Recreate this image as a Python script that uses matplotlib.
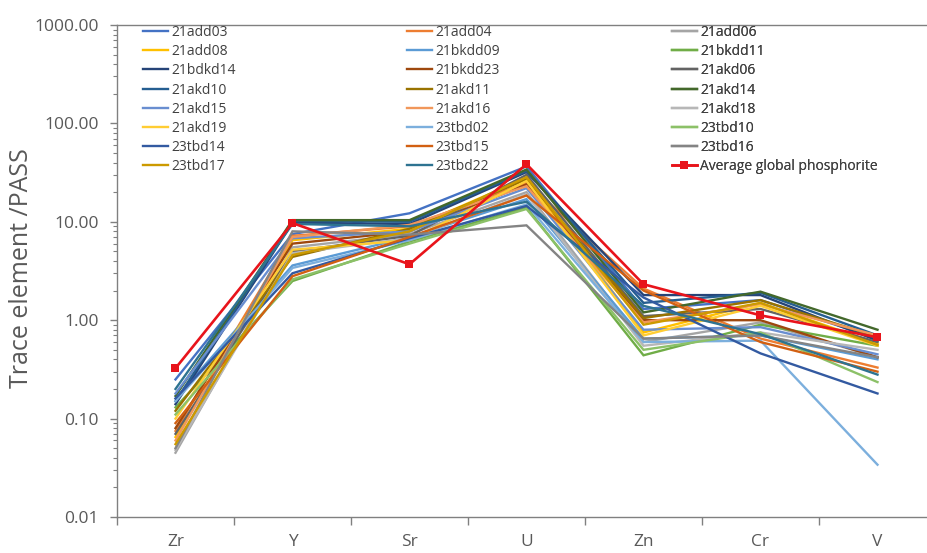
import matplotlib
matplotlib.use("Agg")
import matplotlib.pyplot as plt
from matplotlib.ticker import FixedLocator, NullFormatter, FuncFormatter, LogLocator

plt.rcParams['font.family'] = ['Open Sans', 'DejaVu Sans']

elements = ["Zr", "Y", "Sr", "U", "Zn", "Cr", "V"]

# Sample names, in legend order (row by row, three columns)
samples = [
    "21add03", "21add04", "21add06",
    "21add08", "21bkdd09", "21bkdd11",
    "21bdkd14", "21bkdd23", "21akd06",
    "21akd10", "21akd11", "21akd14",
    "21akd15", "21akd16", "21akd18",
    "21akd19", "23tbd02", "23tbd10",
    "23tbd14", "23tbd15", "23tbd16",
    "23tbd17", "23tbd22",
]

sample_colors = [
    "#4472C4", "#ED7D31", "#A5A5A5",
    "#FFC000", "#5B9BD5", "#70AD47",
    "#264478", "#9E480E", "#636363",
    "#255E91", "#997300", "#43682B",
    "#698ED0", "#F1975A", "#B7B7B7",
    "#FFCD33", "#7CAFDD", "#8CC168",
    "#335AA1", "#D26012", "#848484",
    "#CC9A00", "#2E7391",
]

# PASS-normalised values, columns = Zr, Y, Sr, U, Zn, Cr, V
values = {
    "21add03":  [0.25, 7.5, 12.2, 36.5, 1.30, 1.60, 0.65],
    "21add04":  [0.075, 7.2, 9.0, 25.0, 2.10, 0.65, 0.33],
    "21add06":  [0.045, 5.5, 7.5, 20.0, 0.60, 0.95, 0.42],
    "21add08":  [0.065, 6.5, 8.5, 28.0, 0.75, 1.50, 0.58],
    "21bkdd09": [0.16, 3.6, 7.0, 17.0, 0.65, 0.70, 0.40],
    "21bkdd11": [0.13, 2.5, 6.3, 14.0, 0.44, 0.90, 0.55],
    "21bdkd14": [0.14, 9.8, 9.5, 32.0, 1.80, 1.80, 0.62],
    "21bkdd23": [0.08, 6.0, 8.0, 24.0, 1.00, 1.00, 0.42],
    "21akd06":  [0.07, 5.0, 7.2, 30.0, 1.10, 1.30, 0.60],
    "21akd10":  [0.15, 10.2, 10.0, 33.0, 1.50, 1.90, 0.70],
    "21akd11":  [0.12, 4.4, 8.5, 27.0, 1.05, 1.60, 0.68],
    "21akd14":  [0.17, 10.4, 10.4, 34.0, 1.20, 1.95, 0.80],
    "21akd15":  [0.18, 6.8, 8.0, 22.0, 0.80, 0.85, 0.45],
    "21akd16":  [0.06, 7.0, 9.3, 23.0, 0.95, 1.45, 0.70],
    "21akd18":  [0.048, 4.8, 6.8, 19.0, 0.55, 0.75, 0.50],
    "21akd19":  [0.10, 5.2, 6.5, 26.0, 0.70, 1.40, 0.55],
    "23tbd02":  [0.15, 3.4, 6.5, 15.0, 0.60, 0.62, 0.034],
    "23tbd10":  [0.11, 2.6, 6.0, 13.5, 0.50, 0.75, 0.235],
    "23tbd14":  [0.16, 3.0, 6.8, 14.5, 1.70, 0.46, 0.18],
    "23tbd15":  [0.09, 2.8, 7.0, 18.5, 2.00, 0.60, 0.30],
    "23tbd16":  [0.05, 8.0, 7.4, 9.2, 0.65, 0.70, 0.42],
    "23tbd17":  [0.055, 4.6, 8.0, 28.5, 0.90, 1.50, 0.56],
    "23tbd22":  [0.20, 9.5, 9.0, 16.0, 1.40, 0.72, 0.28],
}

avg_label = "Average global phosphorite"
avg_values = [0.325, 9.7, 3.7, 38.5, 2.32, 1.12, 0.67]
avg_color = "#E8141B"

W, H = 928, 553
fig = plt.figure(figsize=(W / 100, H / 100), dpi=100)
ax = fig.add_axes([117 / W, 1 - 517 / H, (936 - 117) / W, (517 - 25) / H])

x = list(range(len(elements)))
handles = []
for name, color in zip(samples, sample_colors):
    h, = ax.plot(x, values[name], color=color, lw=1.7, solid_joinstyle='miter')
    handles.append(h)
ha, = ax.plot(x, avg_values, color=avg_color, lw=1.9, marker='s', ms=5.5,
              markeredgewidth=0, zorder=5)
handles.append(ha)

ax.set_yscale('log')
ax.set_ylim(0.01, 1000)
ax.set_xlim(-0.5, len(elements) - 0.5)

axis_gray = "#808080"
text_gray = "#595959"
for side in ("left", "bottom", "top"):
    ax.spines[side].set_color(axis_gray)
    ax.spines[side].set_linewidth(1.0)
ax.spines["right"].set_visible(False)

# y axis: decades labelled with two decimals, minor ticks 2..9
ax.yaxis.set_major_locator(LogLocator(base=10, numticks=10))
ax.yaxis.set_minor_locator(LogLocator(base=10, subs=range(2, 10), numticks=10))
ax.yaxis.set_major_formatter(FuncFormatter(lambda v, p: f"{v:.2f}"))
ax.yaxis.set_minor_formatter(NullFormatter())
ax.tick_params(axis='y', which='major', direction='out', length=5, width=1,
               color=axis_gray, labelsize=12.5, labelcolor=text_gray, pad=8)
ax.tick_params(axis='y', which='minor', direction='out', length=3, width=0.8,
               color=axis_gray)

# x axis: tick marks on category boundaries, names centred between them
ax.xaxis.set_major_locator(FixedLocator([i - 0.5 for i in range(len(elements) + 1)]))
ax.xaxis.set_major_formatter(NullFormatter())
ax.xaxis.set_minor_locator(FixedLocator(x))
ax.set_xticklabels(elements, minor=True)
ax.tick_params(axis='x', which='major', direction='out', length=6, width=1,
               color=axis_gray)
ax.tick_params(axis='x', which='minor', length=0, labelsize=12.5,
               labelcolor=text_gray, pad=12)

fig.text(22 / W, 1 - 268 / H, "Trace element /PASS", rotation=90,
         ha='center', va='center', fontsize=18, color=text_gray)

# three legend columns placed side by side
col_left = [143, 407, 672]
labels_all = samples + [avg_label]
for c in range(3):
    idx = list(range(c, len(handles), 3))
    leg = ax.legend([handles[i] for i in idx],
                    [labels_all[i] for i in idx],
                    loc='upper left',
                    bbox_to_anchor=(col_left[c] / W, 1 - 25 / H),
                    bbox_transform=fig.transFigure,
                    frameon=False, fontsize=10, handlelength=1.8,
                    handletextpad=0.22, labelspacing=0.30, borderpad=0,
                    borderaxespad=0, labelcolor="#404040")
    ax.add_artist(leg)

fig.savefig("out.png", dpi=100)
